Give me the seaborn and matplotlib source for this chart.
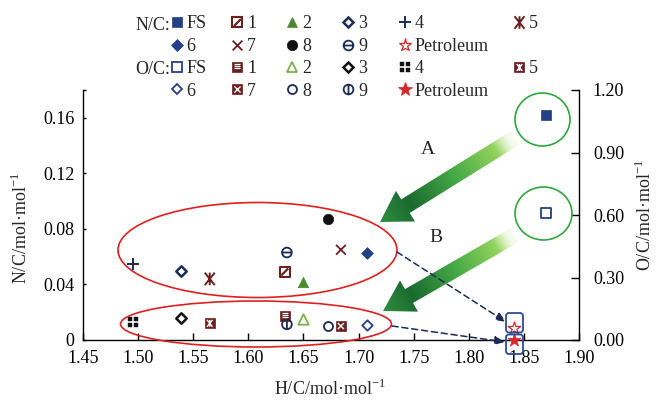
import numpy as np
import pandas as pd
import matplotlib
matplotlib.use("Agg")
import matplotlib.pyplot as plt
import seaborn as sns
from matplotlib.path import Path
from matplotlib.lines import Line2D
from matplotlib.patches import Ellipse, FancyBboxPatch, Polygon
from matplotlib.colors import LinearSegmentedColormap

# ---- data -------------------------------------------------------------
samples = ["FS", "1", "2", "3", "4", "5", "6", "7", "8", "9", "Petroleum"]
hc_ratio = [1.870, 1.633, 1.650, 1.539, 1.495, 1.565, 1.708, 1.684, 1.672, 1.635, 1.841]
nc_ratio = [0.162, 0.049, 0.042, 0.050, 0.055, 0.044, 0.063, 0.065, 0.087, 0.063, 0.009]
oc_ratio = [0.608, 0.115, 0.099, 0.104, 0.088, 0.080, 0.070, 0.067, 0.069, 0.075, 0.000]

x_ticks = [1.45, 1.50, 1.55, 1.60, 1.65, 1.70, 1.75, 1.80, 1.85, 1.90]
x_tick_labels = ["1.45", "1.50", "1.55", "1.60", "1.65", "1.70", "1.75", "1.80", "1.85", "1.90"]
nc_ticks = [0, 0.04, 0.08, 0.12, 0.16, 0.18]
nc_tick_labels = ["0", "0.04", "0.08", "0.12", "0.16", ""]
oc_ticks = [0, 0.30, 0.60, 0.90, 1.20]
oc_tick_labels = ["0.00", "0.30", "0.60", "0.90", "1.20"]

df = pd.DataFrame({"sample": samples, "hc": hc_ratio, "nc": nc_ratio, "oc": oc_ratio})

# ---- style --------------------------------------------------------------
sns.set_style("ticks")
plt.rcParams["font.family"] = ["Liberation Serif", "DejaVu Serif"]
plt.rcParams["mathtext.fontset"] = "custom"
plt.rcParams["mathtext.rm"] = "Liberation Serif"
plt.rcParams["axes.linewidth"] = 1.0
plt.rcParams["axes.edgecolor"] = "black"
FS = 13

NAVY = "#243F86"
DNAVY = "#1C2B57"
DRED = "#6B1F1F"
GREEN = "#4A8A2C"
LGREEN = "#79B04C"
RED = "#D6282B"
BLACK = "#111111"


def seg_path(segs):
    verts, codes = [], []
    for a, b in segs:
        verts += [a, b]
        codes += [Path.MOVETO, Path.LINETO]
    return Path(verts, codes)


PLUS = seg_path([((-1, 0), (1, 0)), ((0, -1), (0, 1))])
CROSS = seg_path([((-1, -1), (1, 1)), ((-1, 1), (1, -1))])
DIAG = seg_path([((-1, -1), (1, 1))])
HLINES = seg_path([((-1, 0.33), (1, 0.33)), ((-1, -0.33), (1, -0.33)), ((-1, 1), (1, 1))])
ZHE = seg_path([((0, -1), (0, 1)), ((-0.8, -1), (0.8, 1)), ((-0.8, 1), (0.8, -1))])
THETA = Path.make_compound_path(Path.unit_circle(), seg_path([((-1, 0), (1, 0))]))
PHI = Path.make_compound_path(Path.unit_circle(), seg_path([((0, -1), (0, 1))]))
_sq = []
for cx in (-0.5, 0.5):
    for cy in (-0.5, 0.5):
        h = 0.4
        _sq.append(Path([(cx - h, cy - h), (cx + h, cy - h), (cx + h, cy + h),
                         (cx - h, cy + h), (cx - h, cy - h)],
                        [Path.MOVETO, Path.LINETO, Path.LINETO, Path.LINETO, Path.CLOSEPOLY]))
QUAD = Path.make_compound_path(*_sq)

# marker layers: (marker, size in pt, face, edge, edge width)
nc_styles = {
    "FS": [("s", 6.5, NAVY, NAVY, 0.5)],
    "1": [("s", 6.5, "white", DRED, 1.5), (DIAG, 5.0, "none", DRED, 1.6)],
    "2": [("^", 7.5, GREEN, GREEN, 0.5)],
    "3": [("D", 5.3, "white", DNAVY, 1.8)],
    "4": [(PLUS, 8.5, "none", DNAVY, 1.4)],
    "5": [(ZHE, 9.0, "none", DRED, 1.4)],
    "6": [("D", 6.0, NAVY, NAVY, 0.5)],
    "7": [(CROSS, 7.0, "none", DRED, 1.3)],
    "8": [("o", 7.5, BLACK, BLACK, 0.5)],
    "9": [(THETA, 7.0, "none", DNAVY, 1.3)],
    "Petroleum": [("*", 9.5, "white", RED, 0.9)],
}
oc_styles = {
    "FS": [("s", 6.5, "white", NAVY, 1.3)],
    "1": [("s", 6.5, DRED, DRED, 0.5), (HLINES, 4.6, "none", "white", 0.9)],
    "2": [("^", 7.5, "white", LGREEN, 1.3)],
    "3": [("D", 5.3, "white", BLACK, 1.8)],
    "4": [(QUAD, 7.0, BLACK, BLACK, 0.3)],
    "5": [("s", 7.0, DRED, DRED, 0.5), (ZHE, 5.0, "none", "white", 1.0)],
    "6": [("D", 5.3, "white", NAVY, 1.3)],
    "7": [("s", 7.0, DRED, DRED, 0.5), (CROSS, 4.4, "none", "white", 1.0)],
    "8": [("o", 6.5, "white", DNAVY, 1.3)],
    "9": [(PHI, 7.0, "none", DNAVY, 1.3)],
    "Petroleum": [("*", 10.0, RED, RED, 0.5)],
}

# ---- figure and axes ------------------------------------------------------
W, H = 656, 400
fig = plt.figure(figsize=(W / 100, H / 100), dpi=100)
ax = fig.add_axes([83 / W, 60 / H, 496 / W, 250 / H])
ax2 = ax.twinx()


def draw_points(axis, ycol, styles, z):
    for _, row in df.iterrows():
        for k, (m, size, fc, ec, lw) in enumerate(styles[row["sample"]]):
            sns.scatterplot(x=[row["hc"]], y=[row[ycol]], ax=axis, marker=m,
                            s=size ** 2, color=ec, facecolor=fc, edgecolor=ec,
                            linewidth=lw, clip_on=False, legend=False, zorder=z + k)


draw_points(ax, "nc", nc_styles, 3)
draw_points(ax2, "oc", oc_styles, 3)

ax.set_xlim(1.45, 1.90)
ax.set_ylim(0, 0.18)
ax2.set_ylim(0, 1.20)
ax.set_xticks(x_ticks, x_tick_labels, fontsize=FS)
ax.set_yticks(nc_ticks, nc_tick_labels, fontsize=FS)
ax2.set_yticks(oc_ticks, oc_tick_labels, fontsize=FS)

for s in ("top", "right"):
    ax.spines[s].set_visible(False)
for s in ("top", "left", "bottom"):
    ax2.spines[s].set_visible(False)

ax.tick_params(axis="x", direction="in", length=5, width=1, pad=7, colors="black")
ax.tick_params(axis="y", direction="in", length=2.5, width=1, pad=6, colors="black")
ax2.tick_params(axis="y", direction="in", length=6, width=1, pad=10, colors="black")

unit = r"/mol·mol$^{\mathregular{-1}}$"
ax.set_xlabel("H/C" + unit, fontsize=FS)
ax.set_ylabel("N/C" + unit, fontsize=FS)
ax2.set_ylabel("O/C" + unit, fontsize=FS)
ax.xaxis.label.set_verticalalignment("center")
ax.xaxis.set_label_coords((330 - 83) / 496, (340 - 389) / 250)
ax.yaxis.label.set_verticalalignment("center")
ax.yaxis.set_label_coords((21 - 83) / 496, (340 - 228) / 250)
ax2.yaxis.label.set_verticalalignment("center")
ax2.yaxis.set_label_coords((645 - 83) / 496, (340 - 215) / 250)

# ---- legend: one column block per position -------------------------------
def make_handle(layers):
    return tuple(Line2D([], [], linestyle="none", marker=m, markersize=size,
                        markerfacecolor=fc, markeredgecolor=ec, markeredgewidth=lw)
                 for (m, size, fc, ec, lw) in layers)


blank = Line2D([], [], linestyle="none")
legend_rows = [samples[:6], samples[6:]]
legend_col_x = [176.5, 237, 292, 348, 405, 519]
legend_top = 15.5
for j, xpx in enumerate(legend_col_x):
    handles, labels = [], []
    for styles in (nc_styles, oc_styles):
        for row in legend_rows:
            if j < len(row):
                handles.append(make_handle(styles[row[j]]))
                labels.append(row[j])
            else:
                handles.append(blank)
                labels.append("")
    fig.legend(handles, labels, loc="upper left",
               bbox_to_anchor=((xpx - 0.4 * FS * 100 / 72) / W, 1 - legend_top / H),
               frameon=False, borderpad=0, borderaxespad=0, handlelength=0.8,
               handletextpad=0.15, labelspacing=0.3, fontsize=FS)

fig.text(170 / W, 1 - 26 / H, "N/C:", ha="right", va="center", fontsize=FS)
fig.text(170 / W, 1 - 69.5 / H, "O/C:", ha="right", va="center", fontsize=FS)

# ---- annotations in a pixel-space overlay ----------------------------------
ov = fig.add_axes([0, 0, 1, 1], zorder=5)
ov.patch.set_alpha(0)
ov.axis("off")

ov.add_patch(Ellipse((257.5, 250), 279, 95, fill=False, ec="#E02020", lw=1.2))
ov.add_patch(Ellipse((256, 324), 271, 46, fill=False, ec="#E02020", lw=1.2))
ov.add_patch(Ellipse((542.5, 119.5), 55, 53, fill=False, ec="#2EA83C", lw=1.2))
ov.add_patch(Ellipse((543.5, 213.5), 57, 53, fill=False, ec="#2EA83C", lw=1.2))

ov.add_patch(FancyBboxPatch((506, 313), 17, 19.5, boxstyle="round,pad=0,rounding_size=3",
                            fill=False, ec="#2B4C95", lw=1.3))
ov.add_patch(FancyBboxPatch((506, 334.5), 17, 19.5, boxstyle="round,pad=0,rounding_size=3",
                            fill=False, ec="#2B4C95", lw=1.3))

for start, end in [((397, 252), (506, 322)), ((392, 326), (505, 342))]:
    ov.annotate("", xy=end, xytext=start,
                arrowprops=dict(arrowstyle="-|>,head_length=0.6,head_width=0.25",
                                linestyle=(0, (4, 2.5)), color=DNAVY, lw=1.1,
                                shrinkA=0, shrinkB=0))

green_cmap = LinearSegmentedColormap.from_list(
    "arrow_green",
    [(0.0, "#e6f5d0"), (0.12, "#9ad65f"), (0.45, "#45a945"), (0.78, "#1b6a2f"), (1.0, "#2f8f3f")])


def gradient_arrow(tail, tip, body_w, head_w, head_l):
    t = np.array(tail, float)
    p = np.array(tip, float)
    d = p - t
    L = np.hypot(*d)
    u = d / L
    n = np.array([-u[1], u[0]])
    base = p - u * head_l
    verts = [t + n * body_w / 2, base + n * body_w / 2, base + n * head_w / 2, p,
             base - n * head_w / 2, base - n * body_w / 2, t - n * body_w / 2]
    poly = Polygon(verts, closed=True, fc="none", ec="none")
    ov.add_patch(poly)
    vs = np.array(verts)
    x0, y0 = vs.min(axis=0) - 2
    x1, y1 = vs.max(axis=0) + 2
    X, Y = np.meshgrid(np.linspace(x0, x1, 200), np.linspace(y0, y1, 200))
    frac = np.clip(((X - t[0]) * u[0] + (Y - t[1]) * u[1]) / L, 0, 1)
    rgba = green_cmap(frac)
    rgba[..., 3] = np.clip(frac / 0.15, 0.25, 1)
    im = ov.imshow(rgba, extent=(x0, x1, y1, y0), origin="upper",
                   interpolation="bilinear", aspect="auto")
    im.set_clip_path(poly)


gradient_arrow((515, 138), (380, 222), 16, 36, 30)
gradient_arrow((515, 235), (383, 311), 16, 36, 30)

ov.text(428, 150, "A", ha="center", va="center", fontsize=FS + 1)
ov.text(436, 238, "B", ha="center", va="center", fontsize=FS + 1)

ov.set_xlim(0, W)
ov.set_ylim(H, 0)

fig.savefig("out.png", dpi=100)
